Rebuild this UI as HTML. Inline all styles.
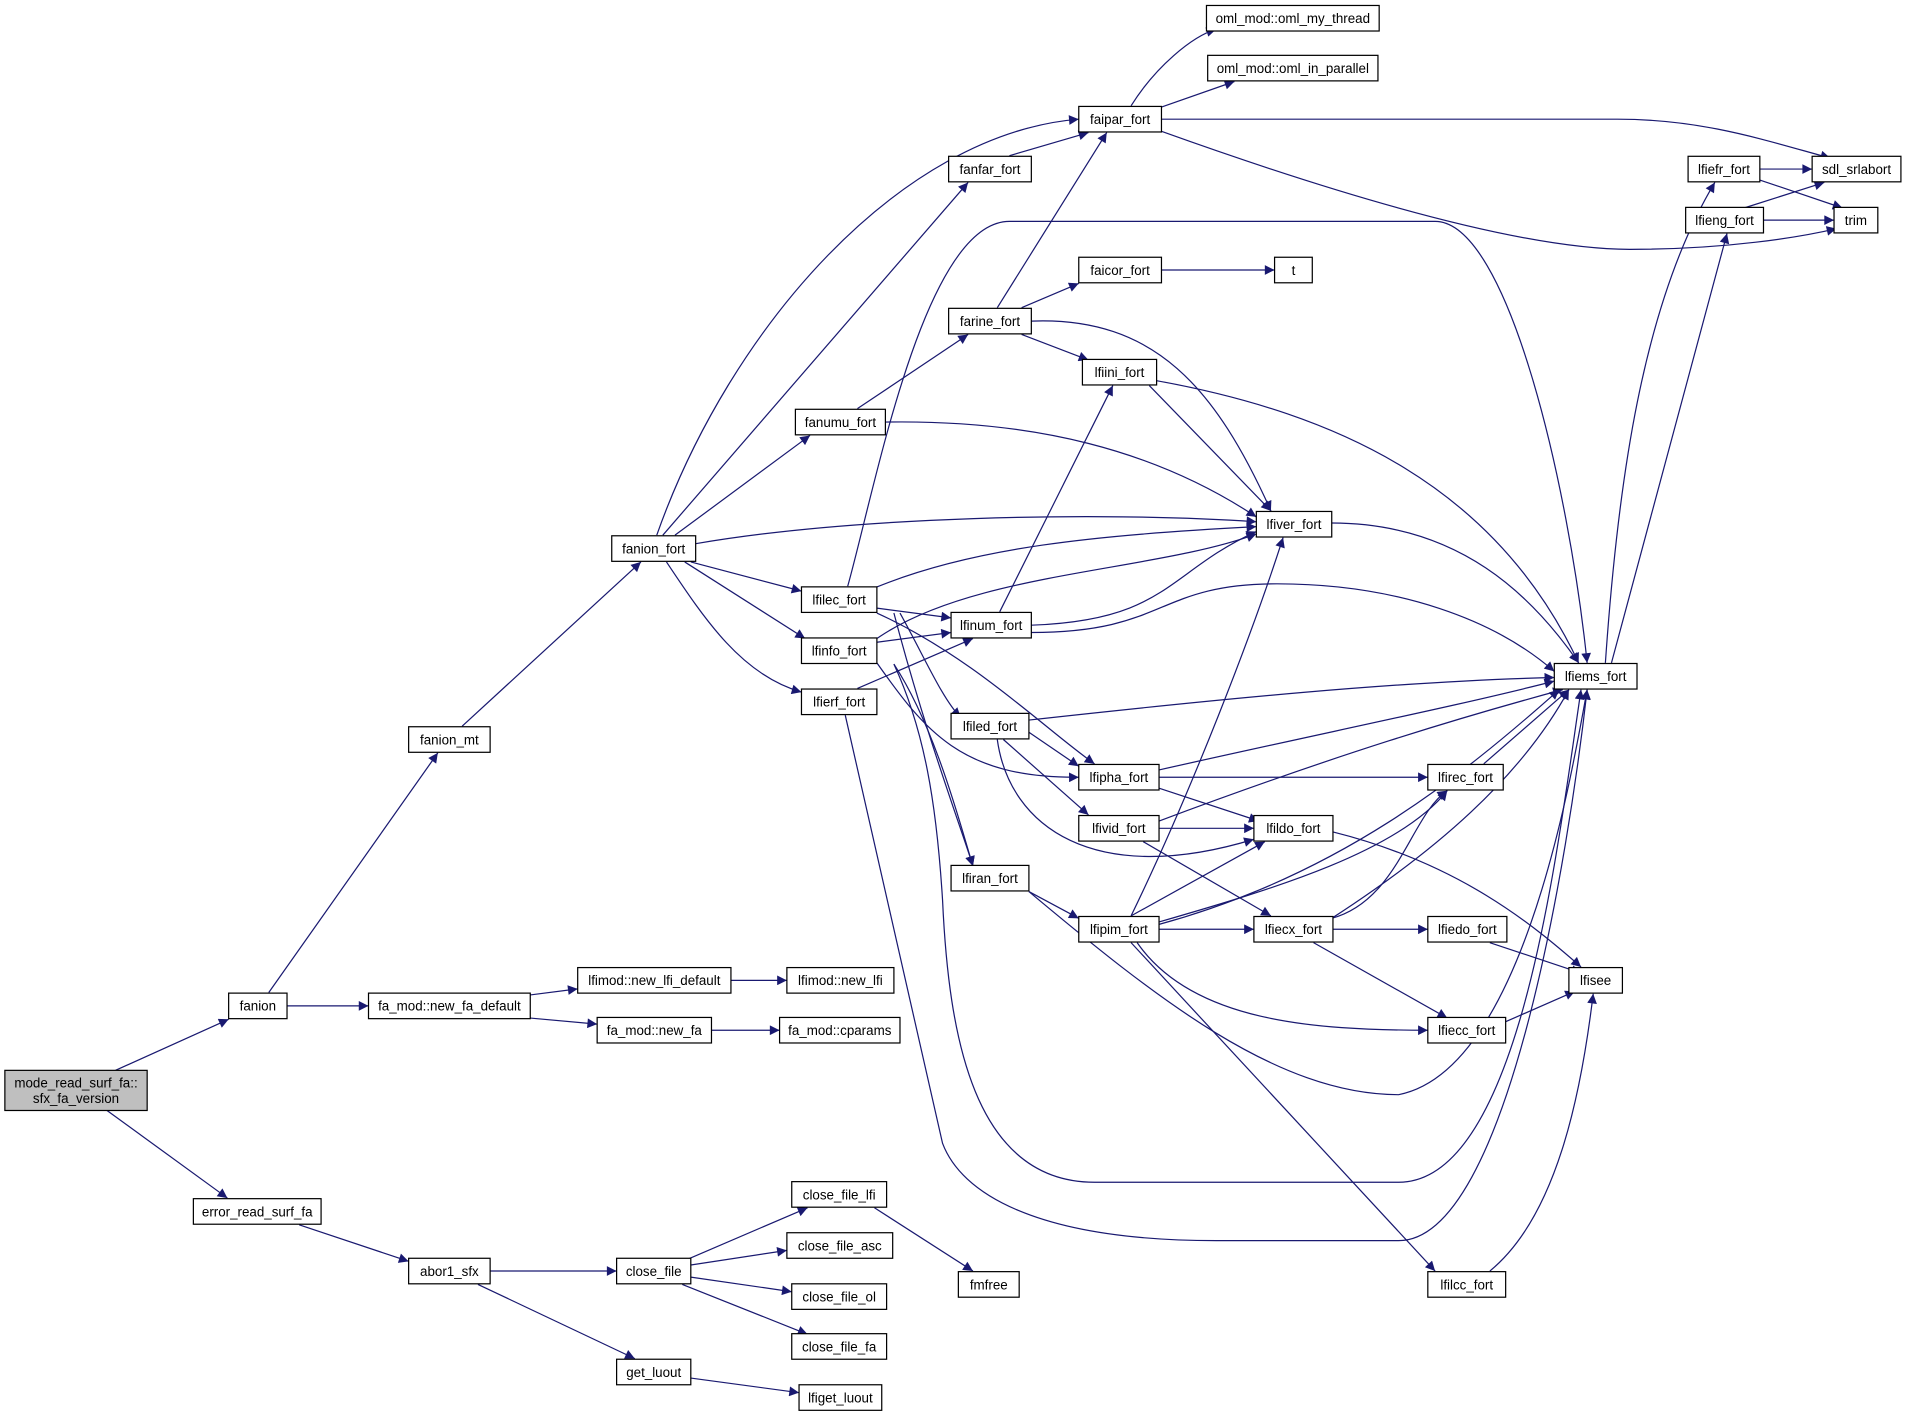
<!DOCTYPE html>
<html><head><meta charset="utf-8"><style>
html,body{margin:0;padding:0;background:#fff;}
svg{display:block;}
text{font-family:"Liberation Sans",sans-serif;font-size:11px;fill:#000;}
.n{fill:#fff;stroke:#000;stroke-width:1;}
.e{fill:none;stroke:#191970;stroke-width:1;}
</style></head><body>
<svg width="1907" height="1417" viewBox="0 0 1568 1165" preserveAspectRatio="none">
<defs><marker id="a" viewBox="0 0 10 10" refX="10" refY="5" markerWidth="10" markerHeight="8" markerUnits="userSpaceOnUse" orient="auto"><path d="M0,0L10,5L0,10z" fill="#191970"/></marker></defs>
<g class="e" marker-end="url(#a)">
<path d="M95,880L188,838"/>
<path d="M88,913L187,985"/>
<path d="M236,827L303,827"/>
<path d="M221,816L360,619"/>
<path d="M436,818L475,813"/>
<path d="M436,837L491,842"/>
<path d="M601,806L647,806"/>
<path d="M585,847L641,847"/>
<path d="M246,1007L336,1037"/>
<path d="M403,1045L507,1045"/>
<path d="M393,1056L522,1117"/>
<path d="M566,1035L664,993"/>
<path d="M568,1040L647,1028"/>
<path d="M568,1050L651,1062"/>
<path d="M561,1056L664,1097"/>
<path d="M568,1133L657,1145"/>
<path d="M719,993L800,1045"/>
<path d="M380,597L527,462"/>
<path d="M540,440C600,270 740,110 887,98"/>
<path d="M545,440L796,150"/>
<path d="M555,440L666,358"/>
<path d="M572,447C700,425 900,420 1033,429"/>
<path d="M568,462L659,486"/>
<path d="M563,462L662,525"/>
<path d="M548,462C580,510 610,555 659,569"/>
<path d="M830,128L895,109"/>
<path d="M930,87C950,55 980,30 1000,24"/>
<path d="M955,88L1015,67"/>
<path d="M955,98L1330,98C1400,98 1450,115 1505,130"/>
<path d="M955,108C1100,160 1250,205 1340,205C1420,205 1480,195 1510,188"/>
<path d="M820,253L910,109"/>
<path d="M1447,139L1490,139"/>
<path d="M1447,148L1515,171"/>
<path d="M1434,171L1500,150"/>
<path d="M1450,181L1508,181"/>
<path d="M1320,545C1330,400 1350,250 1410,150"/>
<path d="M1325,545L1420,192"/>
<path d="M697,482C720,400 760,182 830,182L1180,182C1240,182 1290,400 1305,545"/>
<path d="M955,222L1048,222"/>
<path d="M840,253L887,233"/>
<path d="M840,275L895,296"/>
<path d="M848,264C950,260 1000,320 1045,420"/>
<path d="M705,336L796,275"/>
<path d="M728,347C850,345 950,370 1033,425"/>
<path d="M951,313C1100,340 1230,400 1298,545"/>
<path d="M945,317L1045,420"/>
<path d="M1095,430C1200,430 1260,490 1298,545"/>
<path d="M720,483C800,450 900,440 1033,433"/>
<path d="M721,500L782,508"/>
<path d="M740,504C760,540 775,575 790,590"/>
<path d="M721,504C800,540 860,600 900,628"/>
<path d="M735,504C760,600 790,680 800,712"/>
<path d="M848,514C960,510 960,470 1033,437"/>
<path d="M822,503L915,317"/>
<path d="M848,520C960,520 950,480 1050,480C1150,480 1230,510 1278,552"/>
<path d="M721,528L782,520"/>
<path d="M721,525C800,470 950,470 1033,439"/>
<path d="M721,545C760,600 790,640 887,639"/>
<path d="M735,546C770,600 790,680 800,712"/>
<path d="M735,546C760,600 770,660 775,740C780,850 800,972 900,972L1150,972C1250,972 1280,700 1300,567"/>
<path d="M705,566L800,525"/>
<path d="M695,588L775,940C790,980 850,1020 1000,1020L1150,1020C1240,1020 1290,700 1305,567"/>
<path d="M846,592C1000,575 1150,560 1278,557"/>
<path d="M846,602L887,630"/>
<path d="M825,608L895,670"/>
<path d="M820,608C830,680 900,730 1031,690"/>
<path d="M953,633C1100,600 1200,580 1278,560"/>
<path d="M953,639L1174,639"/>
<path d="M953,648L1035,675"/>
<path d="M953,675C1100,620 1200,590 1285,567"/>
<path d="M953,681L1031,681"/>
<path d="M940,692L1045,753"/>
<path d="M1096,684C1200,710 1260,760 1300,795"/>
<path d="M1220,628L1290,567"/>
<path d="M846,733L887,755"/>
<path d="M846,733C950,820 1050,900 1150,900C1250,880 1290,650 1305,567"/>
<path d="M930,753C980,650 1030,520 1055,442"/>
<path d="M930,753L1040,692"/>
<path d="M953,758C1050,730 1150,700 1190,650"/>
<path d="M953,764L1031,764"/>
<path d="M953,760C1100,720 1200,640 1282,567"/>
<path d="M935,775C980,840 1080,847 1174,847"/>
<path d="M930,775L1180,1045"/>
<path d="M1095,755C1150,740 1160,670 1190,650"/>
<path d="M1095,755C1180,700 1250,640 1290,567"/>
<path d="M1096,764L1174,764"/>
<path d="M1080,775L1190,837"/>
<path d="M1225,775L1300,800"/>
<path d="M1238,840L1295,815"/>
<path d="M1225,1045C1280,1000 1300,900 1310,817"/>
</g>
<rect x="4" y="880" width="117" height="33" fill="#bfbfbf" stroke="#000"/>
<text x="62.5" y="894" text-anchor="middle">mode_read_surf_fa::</text>
<text x="62.5" y="907" text-anchor="middle">sfx_fa_version</text>
<g id="nodes">
<rect class="n" x="188" y="816.5" width="48" height="21"/><text x="212" y="831" text-anchor="middle">fanion</text>
<rect class="n" x="303" y="816.5" width="133" height="21"/><text x="369.5" y="831" text-anchor="middle">fa_mod::new_fa_default</text>
<rect class="n" x="475" y="795.5" width="126" height="21"/><text x="538" y="810" text-anchor="middle">lfimod::new_lfi_default</text>
<rect class="n" x="647" y="795.5" width="88" height="21"/><text x="691" y="810" text-anchor="middle">lfimod::new_lfi</text>
<rect class="n" x="491" y="836.5" width="94" height="21"/><text x="538" y="851" text-anchor="middle">fa_mod::new_fa</text>
<rect class="n" x="641" y="836.5" width="99" height="21"/><text x="690.5" y="851" text-anchor="middle">fa_mod::cparams</text>
<rect class="n" x="159" y="985.5" width="105" height="21"/><text x="211.5" y="1000" text-anchor="middle">error_read_surf_fa</text>
<rect class="n" x="336" y="1034.5" width="67" height="21"/><text x="369.5" y="1049" text-anchor="middle">abor1_sfx</text>
<rect class="n" x="507" y="1034.5" width="61" height="21"/><text x="537.5" y="1049" text-anchor="middle">close_file</text>
<rect class="n" x="507" y="1117.5" width="61" height="21"/><text x="537.5" y="1132" text-anchor="middle">get_luout</text>
<rect class="n" x="657" y="1138.5" width="68" height="21"/><text x="691" y="1153" text-anchor="middle">lfiget_luout</text>
<rect class="n" x="651" y="971.5" width="78" height="21"/><text x="690" y="986" text-anchor="middle">close_file_lfi</text>
<rect class="n" x="647" y="1013.5" width="87" height="21"/><text x="690.5" y="1028" text-anchor="middle">close_file_asc</text>
<rect class="n" x="651" y="1055.5" width="78" height="21"/><text x="690" y="1070" text-anchor="middle">close_file_ol</text>
<rect class="n" x="651" y="1096.5" width="78" height="21"/><text x="690" y="1111" text-anchor="middle">close_file_fa</text>
<rect class="n" x="788" y="1045.5" width="50" height="21"/><text x="813" y="1060" text-anchor="middle">fmfree</text>
<rect class="n" x="336" y="597.5" width="67" height="21"/><text x="369.5" y="612" text-anchor="middle">fanion_mt</text>
<rect class="n" x="503" y="440.5" width="69" height="21"/><text x="537.5" y="455" text-anchor="middle">fanion_fort</text>
<rect class="n" x="780" y="128.5" width="68" height="21"/><text x="814" y="143" text-anchor="middle">fanfar_fort</text>
<rect class="n" x="887" y="87.5" width="68" height="21"/><text x="921" y="102" text-anchor="middle">faipar_fort</text>
<rect class="n" x="992" y="4.5" width="142" height="21"/><text x="1063" y="19" text-anchor="middle">oml_mod::oml_my_thread</text>
<rect class="n" x="993" y="45.5" width="140" height="21"/><text x="1063" y="60" text-anchor="middle">oml_mod::oml_in_parallel</text>
<rect class="n" x="1490" y="128.5" width="73" height="21"/><text x="1526.5" y="143" text-anchor="middle">sdl_srlabort</text>
<rect class="n" x="1508" y="170.5" width="36" height="21"/><text x="1526" y="185" text-anchor="middle">trim</text>
<rect class="n" x="1388" y="128.5" width="59" height="21"/><text x="1417.5" y="143" text-anchor="middle">lfiefr_fort</text>
<rect class="n" x="1386" y="170.5" width="64" height="21"/><text x="1418" y="185" text-anchor="middle">lfieng_fort</text>
<rect class="n" x="887" y="211.5" width="68" height="21"/><text x="921" y="226" text-anchor="middle">faicor_fort</text>
<rect class="n" x="1048" y="211.5" width="31" height="21"/><text x="1063.5" y="226" text-anchor="middle">t</text>
<rect class="n" x="780" y="253.5" width="68" height="21"/><text x="814" y="268" text-anchor="middle">farine_fort</text>
<rect class="n" x="890" y="295.5" width="61" height="21"/><text x="920.5" y="310" text-anchor="middle">lfiini_fort</text>
<rect class="n" x="654" y="336.5" width="74" height="21"/><text x="691" y="351" text-anchor="middle">fanumu_fort</text>
<rect class="n" x="1033" y="420.5" width="62" height="21"/><text x="1064" y="435" text-anchor="middle">lfiver_fort</text>
<rect class="n" x="659" y="482.5" width="62" height="21"/><text x="690" y="497" text-anchor="middle">lfilec_fort</text>
<rect class="n" x="782" y="503.5" width="66" height="21"/><text x="815" y="518" text-anchor="middle">lfinum_fort</text>
<rect class="n" x="659" y="524.5" width="62" height="21"/><text x="690" y="539" text-anchor="middle">lfinfo_fort</text>
<rect class="n" x="659" y="566.5" width="62" height="21"/><text x="690" y="581" text-anchor="middle">lfierf_fort</text>
<rect class="n" x="1278" y="545.5" width="68" height="21"/><text x="1312" y="560" text-anchor="middle">lfiems_fort</text>
<rect class="n" x="782" y="586.5" width="64" height="21"/><text x="814" y="601" text-anchor="middle">lfiled_fort</text>
<rect class="n" x="887" y="628.5" width="66" height="21"/><text x="920" y="643" text-anchor="middle">lfipha_fort</text>
<rect class="n" x="1174" y="628.5" width="62" height="21"/><text x="1205" y="643" text-anchor="middle">lfirec_fort</text>
<rect class="n" x="887" y="670.5" width="66" height="21"/><text x="920" y="685" text-anchor="middle">lfivid_fort</text>
<rect class="n" x="1031" y="670.5" width="65" height="21"/><text x="1063.5" y="685" text-anchor="middle">lfildo_fort</text>
<rect class="n" x="782" y="711.5" width="64" height="21"/><text x="814" y="726" text-anchor="middle">lfiran_fort</text>
<rect class="n" x="887" y="753.5" width="66" height="21"/><text x="920" y="768" text-anchor="middle">lfipim_fort</text>
<rect class="n" x="1031" y="753.5" width="65" height="21"/><text x="1063.5" y="768" text-anchor="middle">lfiecx_fort</text>
<rect class="n" x="1174" y="753.5" width="65" height="21"/><text x="1206.5" y="768" text-anchor="middle">lfiedo_fort</text>
<rect class="n" x="1290" y="795.5" width="44" height="21"/><text x="1312" y="810" text-anchor="middle">lfisee</text>
<rect class="n" x="1174" y="836.5" width="64" height="21"/><text x="1206" y="851" text-anchor="middle">lfiecc_fort</text>
<rect class="n" x="1174" y="1045.5" width="64" height="21"/><text x="1206" y="1060" text-anchor="middle">lfilcc_fort</text>
</g>
</svg>
</body></html>
